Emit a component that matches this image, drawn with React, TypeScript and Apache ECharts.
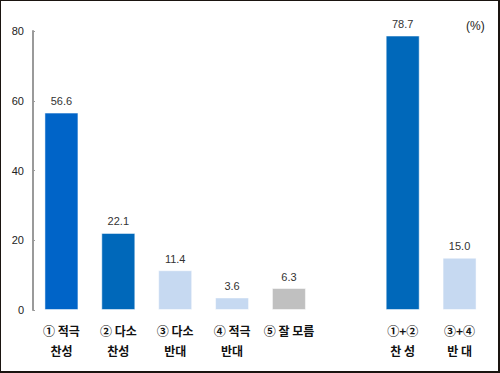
import React, { useEffect, useRef } from "react";
import * as echarts from "echarts";

const categories = ["① 적극\n찬성", "② 다소\n찬성", "③ 다소\n반대", "④ 적극\n반대", "⑤ 잘 모름", "", "①+②\n찬 성", "③+④\n반 대"];
const values: (number | null)[] = [56.6, 22.1, 11.4, 3.6, 6.3, null, 78.7, 15.0];
const barColors = ["#0064C8", "#0068BA", "#C6D9F1", "#C6D9F1", "#C0C0C0", "#FFFFFF", "#0068BA", "#C6D9F1"];
const yTicks = [0, 20, 40, 60, 80];

export default function App() {
  const ref = useRef<HTMLDivElement>(null);

  useEffect(() => {
    if (!ref.current) return;
    const chart = echarts.init(ref.current, null, { renderer: "svg" });
    const font = "'Liberation Sans', Arial, 'Noto Sans CJK KR', sans-serif";
    chart.setOption({
      animation: false,
      backgroundColor: "#ffffff",
      grid: { left: 32, right: 10, top: 30, bottom: 61 },
      graphic: [
        {
          type: "text",
          left: 465,
          top: 19,
          style: { text: "(%)", fontSize: 12, fill: "#222", fontFamily: font },
        },
      ],
      xAxis: {
        type: "category",
        data: categories,
        axisLine: { show: false },
        axisTick: { show: false },
        axisLabel: {
          interval: 0,
          margin: 10,
          fontSize: 12,
          fontWeight: "bold",
          lineHeight: 20,
          color: "#111",
          fontFamily: "'Noto Sans CJK KR', sans-serif",
        },
      },
      yAxis: {
        type: "value",
        min: yTicks[0],
        max: yTicks[yTicks.length - 1],
        interval: 20,
        splitLine: { show: false },
        axisLine: { show: true, lineStyle: { color: "#9a9a9a", width: 2 } },
        axisTick: { show: true, inside: true, length: 2, lineStyle: { color: "#9a9a9a" } },
        axisLabel: { fontSize: 11, color: "#222", margin: 9, fontFamily: font },
      },
      series: [
        {
          type: "bar",
          barWidth: 34,
          data: values.map((v, i) => ({
            value: v,
            itemStyle: { color: barColors[i], borderColor: "rgba(255,255,255,0.5)", borderWidth: 1 },
          })),
          label: {
            show: true,
            position: "top",
            distance: 6,
            fontSize: 11,
            color: "#333",
            fontFamily: font,
            formatter: (p: any) => (p.value == null ? "" : Number(p.value).toFixed(1)),
          },
        },
      ],
    });
    return () => chart.dispose();
  }, []);

  return (
    <div
      style={{
        position: "fixed",
        left: 0,
        top: 0,
        width: 500,
        height: 373,
        boxSizing: "border-box",
        borderStyle: "solid",
        borderColor: "#1a1410",
        borderWidth: "1px 2px 2px 1px",
        background: "#fff",
      }}
    >
      <div ref={ref} style={{ width: 497, height: 370 }} />
    </div>
  );
}
